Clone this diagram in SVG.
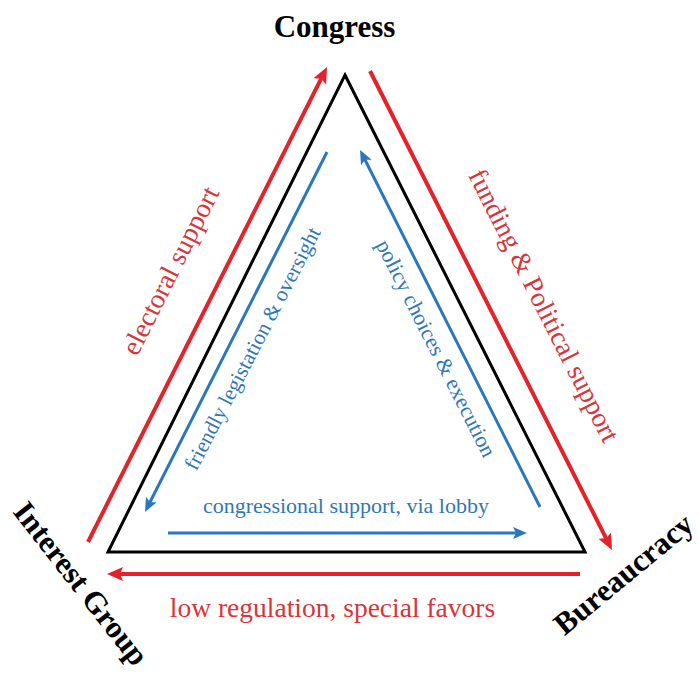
<svg xmlns="http://www.w3.org/2000/svg" width="699" height="675" viewBox="0 0 699 675">
<defs>
<style>
.red{stroke:#e3232b;stroke-width:4;fill:none}
.blue{stroke:#2a78bb;stroke-width:3;fill:none}
.tri{stroke:#000;stroke-width:3;fill:none;stroke-linejoin:miter}
.node{font-family:"Liberation Serif","Times New Roman",serif;font-weight:bold;font-size:31px;fill:#000;text-anchor:middle}
.rl{font-family:"Liberation Serif","Times New Roman",serif;font-size:27.5px;fill:#d8343b;text-anchor:middle}
.bl{font-family:"Liberation Serif","Times New Roman",serif;font-size:22px;fill:#2f78b4;text-anchor:middle}
</style>
<marker id="ar" markerUnits="userSpaceOnUse" markerWidth="16" markerHeight="14" refX="10" refY="7" orient="auto"><path d="M0,0 L16,7 L0,14 L3,7 z" fill="#e3232b"/></marker>
<marker id="ab" markerUnits="userSpaceOnUse" markerWidth="14" markerHeight="12" refX="9" refY="6" orient="auto"><path d="M0,0 L14,6 L0,12 L3,6 z" fill="#2a78bb"/></marker>
</defs>
<rect width="699" height="675" fill="#fff"/>
<g id="triangle"><polygon class="tri" points="345,75 585,552 108,552"/></g>
<g id="connectors">
<line class="red" x1="88" y1="542" x2="324.3" y2="72.4" marker-end="url(#ar)"/>
<line class="red" x1="370" y1="71" x2="609.3" y2="544.6" marker-end="url(#ar)"/>
<line class="red" x1="580" y1="574" x2="113" y2="574" marker-end="url(#ar)"/>
<line class="blue" x1="327" y1="152" x2="147.3" y2="507.5" marker-end="url(#ab)"/>
<line class="blue" x1="540" y1="507" x2="362.3" y2="154.5" marker-end="url(#ab)"/>
<line class="blue" x1="168" y1="533" x2="522" y2="533" marker-end="url(#ab)"/>
</g>
<g id="congress"><text class="node" x="334.5" y="37">Congress</text></g>
<g id="interest-group"><text class="node" transform="translate(73,590) rotate(52)">Interest Group</text></g>
<g id="bureaucracy"><text class="node" transform="translate(630,582) rotate(-39.6)">Bureaucracy</text></g>
<g id="labels">
<text class="rl" transform="translate(178.6,274.7) rotate(-63.3)">electoral support</text>
<text class="rl" transform="translate(535.8,309.7) rotate(63.2)">funding &amp; Political support</text>
<text class="rl" x="332.5" y="617">low regulation, special favors</text>
<text class="bl" style="font-size:21.5px" transform="translate(258.8,351.9) rotate(-62.5)">friendly legistation &amp; oversight</text>
<text class="bl" transform="translate(429.6,351.7) rotate(63.2)">policy choices &amp; execution</text>
<text class="bl" x="346" y="513">congressional support, via lobby</text>
</g>
</svg>
